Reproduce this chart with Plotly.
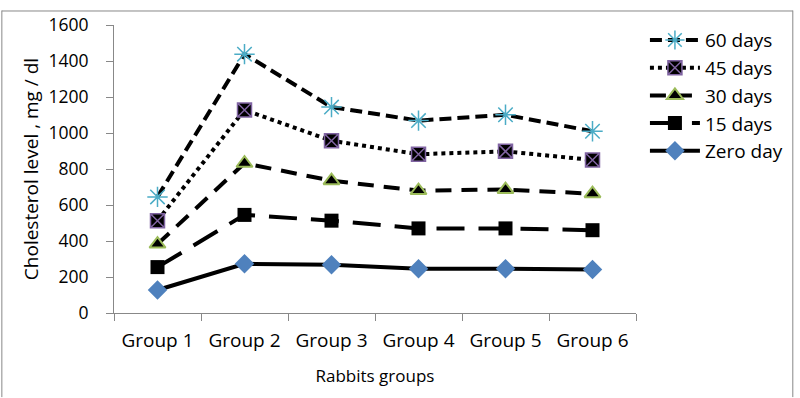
import plotly.graph_objects as go

groups = ["Group 1", "Group 2", "Group 3", "Group 4", "Group 5", "Group 6"]
zero_day = [128, 273, 268, 246, 246, 241]
days_15 = [255, 545, 513, 470, 470, 460]
days_30 = [383, 832, 735, 680, 686, 663]
days_45 = [513, 1128, 957, 882, 898, 850]
days_60 = [645, 1438, 1144, 1069, 1101, 1010]

fig = go.Figure()
fig.add_trace(go.Scatter(x=groups, y=zero_day, name="Zero day", mode="lines+markers",
                         line=dict(color="black", width=4),
                         marker=dict(symbol="diamond", size=15, color="#4f81bd")))
fig.add_trace(go.Scatter(x=groups, y=days_15, name="15 days", mode="lines+markers",
                         line=dict(color="black", width=4, dash="28px,14px"),
                         marker=dict(symbol="square", size=14, color="black")))
fig.add_trace(go.Scatter(x=groups, y=days_30, name="30 days", mode="lines+markers",
                         line=dict(color="black", width=4, dash="16px,10px"),
                         marker=dict(symbol="triangle-up", size=14, color="black",
                                     line=dict(color="#9bbb59", width=2))))
fig.add_trace(go.Scatter(x=groups, y=days_45, name="45 days", mode="lines+markers",
                         line=dict(color="black", width=4, dash="dot"),
                         marker=dict(symbol="square-x", size=14, color="black",
                                     line=dict(color="#8064a2", width=1.5))))
fig.add_trace(go.Scatter(x=groups, y=days_60, name="60 days", mode="lines+markers",
                         line=dict(color="black", width=4, dash="12px,6px"),
                         marker=dict(symbol="asterisk-open", size=17, color="#4bacc6",
                                     line=dict(color="#4bacc6", width=1.5))))

L, R, T, B = 114, 160, 15, 85
W, H = 800 - L - R, 398 - T - B

def px(x):
    return (x - L) / W

def py(y):
    return (398 - B - y) / H

fig.update_layout(
    width=800, height=398,
    margin=dict(l=L, r=R, t=T, b=B),
    paper_bgcolor="white", plot_bgcolor="white",
    font=dict(family="Open Sans, Lato, sans-serif", size=19, color="black"),
    showlegend=True,
    legend=dict(traceorder="reversed", x=px(649), y=py(11), xanchor="left", yanchor="top",
                font=dict(size=19), itemwidth=50, tracegroupgap=0,
                bgcolor="rgba(0,0,0,0)"),
    xaxis=dict(type="category", showgrid=False, showline=True, linecolor="#888888", linewidth=1,
               ticks="outside", tickson="boundaries", ticklen=7, tickcolor="#888888",
               ticklabelstandoff=10, tickfont=dict(size=19),
               title=dict(text="Rabbits groups", font=dict(size=17), standoff=18),
               range=[-0.5, 5.5]),
    yaxis=dict(range=[0, 1600], dtick=200, showgrid=False, showline=True, linecolor="#888888",
               linewidth=1, ticks="outside", ticklen=7, tickcolor="#888888", zeroline=False,
               ticklabelstandoff=14, tickfont=dict(size=17.5),
               title=dict(text="Cholesterol level , mg / dl", font=dict(size=19), standoff=4)),
    shapes=[
        dict(type="line", xref="paper", yref="paper", x0=px(1), x1=px(1), y0=py(0), y1=py(400),
             line=dict(color="#888888", width=1)),
        dict(type="line", xref="paper", yref="paper", x0=px(1), x1=px(798), y0=py(0.5), y1=py(0.5),
             line=dict(color="#888888", width=1)),
        dict(type="line", xref="paper", yref="paper", x0=px(798), x1=px(798), y0=py(0), y1=py(400),
             line=dict(color="#888888", width=1)),
    ],
)

fig.write_html("out.html", config={"displayModeBar": False},
               post_script="document.body.style.margin='0';document.body.style.overflow='hidden';")
